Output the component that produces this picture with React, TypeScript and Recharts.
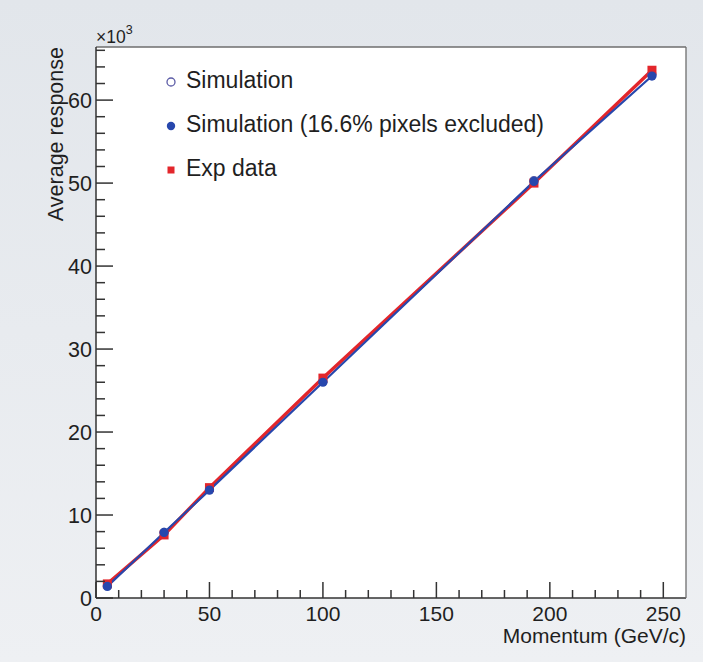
import { CartesianGrid, ComposedChart, Label, Legend, Line, XAxis, YAxis } from "recharts";

// beam momenta in GeV/c and mean response (units of 10^3)
const momentum = [5, 30, 50, 100, 193, 245];
const simulation = [1.5, 7.9, 13.1, 26.1, 50.3, 63.1];
const simExcluded = [1.4, 7.9, 13.0, 26.0, 50.2, 62.9];
const expData = [1.7, 7.6, 13.3, 26.5, 50.0, 63.6];

const xTicks = [0, 10, 20, 30, 40, 50, 60, 70, 80, 90, 100, 110, 120, 130, 140, 150, 160, 170, 180, 190, 200, 210, 220, 230, 240, 250];
const xLabels = [0, 50, 100, 150, 200, 250];
const yTicks = [0, 2, 4, 6, 8, 10, 12, 14, 16, 18, 20, 22, 24, 26, 28, 30, 32, 34, 36, 38, 40, 42, 44, 46, 48, 50, 52, 54, 56, 58, 60, 62, 64, 66];
const yLabels = [0, 10, 20, 30, 40, 50, 60];

const legendItems = [
  { name: "Simulation", marker: "open" },
  { name: "Simulation (16.6% pixels excluded)", marker: "dot" },
  { name: "Exp data", marker: "square" },
];

const rows = momentum.map((p, i) => ({
  p,
  sim: simulation[i],
  simEx: simExcluded[i],
  exp: expData[i],
}));

const FONT = '"Liberation Sans", Arial, Helvetica, sans-serif';
const AXIS = "#333333";
const TEXT = "#1f1f1f";
const RED = "#e3262b";
const BLUE = "#2747ad";
const OPEN = "#5c5ca6";

function XTick({ x, y, payload }: any) {
  const major = xLabels.includes(payload.value);
  return (
    <g>
      <line x1={x} x2={x} y1={y} y2={y - (major ? 16 : 8)} stroke={AXIS} strokeWidth={1.5} />
      {major && (
        <text x={x} y={y + 23} textAnchor="middle" fontSize={21} fontFamily={FONT} fill={TEXT}>
          {payload.value}
        </text>
      )}
    </g>
  );
}

function YTick({ x, y, payload }: any) {
  const major = yLabels.includes(payload.value);
  return (
    <g>
      <line x1={x} x2={x + (major ? 17 : 9)} y1={y} y2={y} stroke={AXIS} strokeWidth={1.5} />
      {major && (
        <text x={x - 4} y={y + 7.5} textAnchor="end" fontSize={21.5} fontFamily={FONT} fill={TEXT}>
          {payload.value}
        </text>
      )}
    </g>
  );
}

function Marker({ kind }: { kind: string }) {
  return (
    <svg width={26} height={14} style={{ verticalAlign: "middle" }}>
      {kind === "open" && <circle cx={11} cy={7} r={4} fill="#fff" stroke={OPEN} strokeWidth={1.3} />}
      {kind === "dot" && <circle cx={11} cy={7} r={4.2} fill={BLUE} />}
      {kind === "square" && <rect x={7.5} y={3.5} width={7} height={7} fill={RED} />}
    </svg>
  );
}

function LegendBox() {
  return (
    <div style={{ fontFamily: FONT, fontSize: 23, color: TEXT }}>
      {legendItems.map((it) => (
        <div key={it.name} style={{ height: 44, lineHeight: "44px", whiteSpace: "nowrap" }}>
          <Marker kind={it.marker} />
          {it.name}
        </div>
      ))}
    </div>
  );
}

const squareDot = (props: any) => {
  const { cx, cy, index } = props;
  return <rect key={`sq-${index}`} x={cx - 4.5} y={cy - 4.5} width={9} height={9} fill={RED} />;
};

export default function App() {
  return (
    <div
      style={{
        position: "absolute",
        left: 0,
        top: 0,
        width: 703,
        height: 662,
        background: "linear-gradient(to bottom, #e2e6eb, #eef0f3)",
      }}
    >
      <ComposedChart width={703} height={662} data={rows} margin={{ top: 46, right: 16, bottom: 63, left: 95 }}>
        <CartesianGrid fill="#ffffff" horizontal={false} vertical={false} />
        <XAxis
          dataKey="p"
          type="number"
          domain={[0, 260]}
          ticks={xTicks}
          interval={0}
          height={1}
          tickSize={0}
          tickMargin={0}
          tick={<XTick />}
          axisLine={{ stroke: AXIS, strokeWidth: 1.5 }}
          allowDataOverflow
        >
          <Label
            content={(props: any) => {
              const vb = props.viewBox;
              return (
                <text x={vb.x + vb.width} y={vb.y + 45} textAnchor="end" fontSize={21} fontFamily={FONT} fill={TEXT}>
                  Momentum (GeV/c)
                </text>
              );
            }}
          />
        </XAxis>
        <XAxis
          xAxisId="top"
          orientation="top"
          type="number"
          domain={[0, 260]}
          height={1}
          tick={false}
          tickLine={false}
          axisLine={{ stroke: "#6e6e6e", strokeWidth: 1.3 }}
        />
        <YAxis
          type="number"
          domain={[0, 66.4]}
          ticks={yTicks}
          interval={0}
          width={1}
          tickSize={0}
          tickMargin={0}
          tick={<YTick />}
          axisLine={{ stroke: AXIS, strokeWidth: 1.5 }}
          allowDataOverflow
        >
          <Label
            content={(props: any) => {
              const vb = props.viewBox;
              const ax = vb.x + vb.width;
              const tx = ax - 33;
              return (
                <g fontFamily={FONT} fill={TEXT}>
                  <text x={tx} y={vb.y} textAnchor="end" fontSize={21.5} transform={`rotate(-90, ${tx}, ${vb.y})`}>
                    Average response
                  </text>
                  <text x={ax} y={vb.y - 4} fontSize={17.5}>
                    ×10
                    <tspan dy={-9} fontSize={12.5}>
                      3
                    </tspan>
                  </text>
                </g>
              );
            }}
          />
        </YAxis>
        <YAxis
          yAxisId="right"
          orientation="right"
          type="number"
          domain={[0, 66.4]}
          width={1}
          tick={false}
          tickLine={false}
          axisLine={{ stroke: "#6e6e6e", strokeWidth: 1.3 }}
        />
        <Legend
          content={<LegendBox />}
          layout="horizontal"
          verticalAlign="middle"
          align="center"
          wrapperStyle={{ left: 160, top: 58, width: "auto" }}
        />
        <Line
          name="Simulation"
          dataKey="sim"
          stroke="none"
          dot={{ r: 4, fill: "#fff", stroke: OPEN, strokeWidth: 1.3 }}
          legendType="circle"
          isAnimationActive={false}
        />
        <Line
          name="Exp data"
          dataKey="exp"
          stroke={RED}
          strokeWidth={3.4}
          dot={squareDot}
          isAnimationActive={false}
        />
        <Line
          name="Simulation (16.6% pixels excluded)"
          dataKey="simEx"
          stroke={BLUE}
          strokeWidth={2.2}
          dot={{ r: 4.6, fill: BLUE, stroke: "none" }}
          isAnimationActive={false}
        />
      </ComposedChart>
    </div>
  );
}
